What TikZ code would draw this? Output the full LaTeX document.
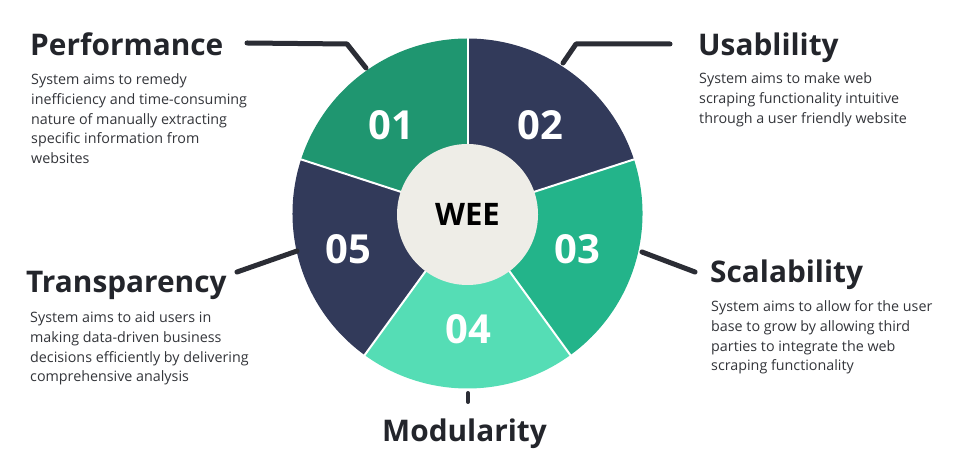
\documentclass[tikz,border=0pt]{standalone}
\usepackage{fontspec}
\setmainfont{Open Sans}
\definecolor{segA}{HTML}{1F9670}
\definecolor{segNavy}{HTML}{323A5A}
\definecolor{segC}{HTML}{23B48A}
\definecolor{segD}{HTML}{55DDB5}
\definecolor{hub}{HTML}{EEEDE7}
\definecolor{ink}{HTML}{23252B}
\definecolor{bodyink}{HTML}{33353A}
\definecolor{leader}{HTML}{2B2D35}
\tikzset{
  title/.style={anchor=base west, inner sep=0, text=ink, font=\fontsize{29.8}{35}\selectfont\bfseries},
  blurb/.style={anchor=base west, inner sep=0, text=bodyink, align=left, font=\fontsize{14.3}{19.6}\selectfont},
  num/.style={text=white, inner sep=0, font=\fontsize{40}{48}\selectfont\bfseries},
  leadline/.style={draw=leader, line width=5pt, line cap=round, line join=round},
}
\newcommand{\wedgefill}[3]{%
  \fill[#3] (ctr) -- ++(#1:175) arc[start angle=#1, end angle=#2, radius=175] -- cycle;}
\begin{document}
\begin{tikzpicture}[x=1pt,y=1pt]
\useasboundingbox[fill=white] (0,0) rectangle (966,463);
\coordinate (ctr) at (467.5,249.5);
% five wedges of the wheel
\wedgefill{90}{162}{segA}
\wedgefill{18}{90}{segNavy}
\wedgefill{-54}{18}{segC}
\wedgefill{-126}{-54}{segD}
\wedgefill{162}{234}{segNavy}
% white gaps between wedges
\foreach \a in {18,90,162,234,306}
  \draw[white, line width=2pt] (ctr) -- ++(\a:177);
% hub
\node[circle, fill=hub, minimum size=141pt, inner sep=0] (hub) at (467.5,248.5) {};
\node[font=\fontsize{31}{38}\selectfont\bfseries, text=black] (wee) at (hub) {WEE};
% wedge numbers
\node[num] (n1) at (391,338) {01};
\node[num] (n2) at (540,338) {02};
\node[num] (n3) at (577,214) {03};
\node[num] (n4) at (468,134) {04};
\node[num] (n5) at (348,214) {05};
% leader lines
\coordinate (p1a) at (366,395);
\coordinate (p1b) at (347,419);
\coordinate (p1c) at (247,420);
\coordinate (p2a) at (563,400);
\coordinate (p2b) at (576,419);
\coordinate (p2c) at (670,419);
\coordinate (p3a) at (642,211);
\coordinate (p3b) at (695,191);
\coordinate (p5a) at (297,212);
\coordinate (p5b) at (237,191);
\coordinate (p4a) at (468,70);
\coordinate (p4b) at (468,61);
\draw[leadline] (p1a) -- (p1b) -- (p1c);
\draw[leadline] (p2a) -- (p2b) -- (p2c);
\draw[leadline] (p3a) -- (p3b);
\draw[leadline] (p5a) -- (p5b);
\draw[leadline, line width=4pt] (p4a) -- (p4b);
% titles and descriptions (blurbs are anchored on their last line)
\node[title] (t1) at (30,407) {Performance};
\node[blurb] (b1) at (31,299.6) {System aims to remedy\\inefficiency and time-consuming\\nature of manually extracting\\specific information from\\websites};
\node[title] (t2) at (698,407) {Usablility};
\node[blurb] (b2) at (699,339.8) {System aims to make web\\scraping functionality intuitive\\through a user friendly website};
\node[title] (t3) at (710,180) {Scalability};
\node[blurb] (b3) at (711,92.2) {System aims to allow for the user\\base to grow by allowing third\\parties to integrate the web\\scraping functionality};
\node[title] (t5) at (26,170) {Transparency};
\node[blurb] (b5) at (30,81.2) {System aims to aid users in\\making data-driven business\\decisions efficiently by delivering\\comprehensive analysis};
\node[title] (t4) at (382,22) {Modularity};
\end{tikzpicture}
\end{document}
